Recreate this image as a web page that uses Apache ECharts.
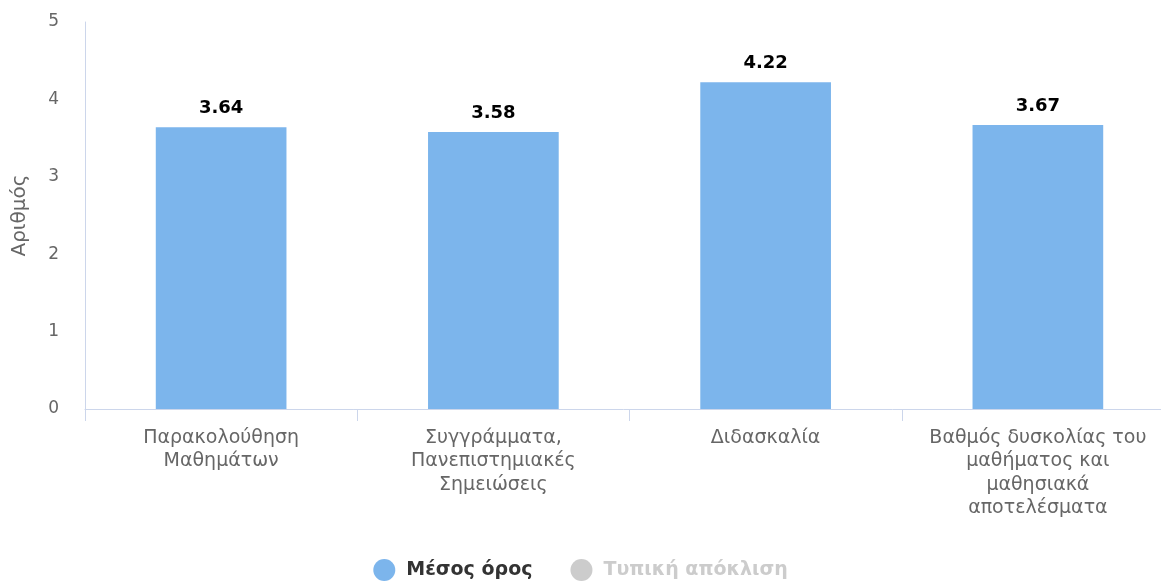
<!DOCTYPE html>
<html><head><meta charset="utf-8">
<script src="https://cdn.jsdelivr.net/npm/echarts@6/dist/echarts.min.js"></script>
<style>html,body{margin:0;padding:0;background:#fff}#c{width:1161px;height:581px}</style>
</head><body><div id="c"></div>
<script>
const categories = ['Παρακολούθηση\nΜαθημάτων', 'Συγγράμματα,\nΠανεπιστημιακές\nΣημειώσεις', 'Διδασκαλία', 'Βαθμός δυσκολίας του\nμαθήματος και\nμαθησιακά\nαποτελέσματα'];
const meanValues = [3.64, 3.58, 4.22, 3.67];
const stdValues = [];
const seriesNames = ['Μέσος όρος', 'Τυπική απόκλιση'];
const yTicks = [0, 1, 2, 3, 4, 5];

const chart = echarts.init(document.getElementById('c'));
const axisColor = '#ccd6eb';
const font = 'DejaVu Sans';
chart.setOption({
  animation: false,
  textStyle: { fontFamily: font },
  grid: { left: 85, top: 22, width: 1089, height: 387, containLabel: false, outerBoundsMode: 'none' },
  legend: {
    top: 554, left: 'center', icon: 'circle', itemWidth: 22, itemHeight: 22, itemGap: 38,
    data: seriesNames,
    selected: { 'Τυπική απόκλιση': false },
    inactiveColor: '#cccccc',
    textStyle: { fontSize: 19, fontWeight: 'bold', color: '#333', fontFamily: font, padding: [0, 0, 0, 6] }
  },
  xAxis: {
    type: 'category', data: categories,
    axisLine: { lineStyle: { color: axisColor, width: 1 } },
    axisTick: { show: true, length: 12, lineStyle: { color: axisColor } },
    axisLabel: { color: '#666', fontSize: 19, lineHeight: 23.5, margin: 17, interval: 0, fontFamily: font }
  },
  yAxis: {
    type: 'value', min: yTicks[0], max: yTicks[yTicks.length - 1], interval: 1,
    name: 'Αριθμός', nameLocation: 'middle', nameGap: 55, nameRotate: 90,
    nameTextStyle: { color: '#666', fontSize: 20, fontFamily: font },
    axisLine: { show: true, lineStyle: { color: axisColor } },
    axisTick: { show: false },
    splitLine: { show: false },
    axisLabel: { color: '#666', fontSize: 17, margin: 26, fontFamily: font }
  },
  series: [
    { name: seriesNames[0], type: 'bar', data: meanValues, barWidth: '48%',
      itemStyle: { color: '#7cb5ec' },
      label: { show: true, position: 'top', distance: 10, color: '#000', fontWeight: 'bold', fontSize: 18,
        fontFamily: font, formatter: p => p.value.toFixed(2) } },
    { name: seriesNames[1], type: 'bar', data: stdValues, itemStyle: { color: '#434348' } }
  ]
});
</script></body></html>
